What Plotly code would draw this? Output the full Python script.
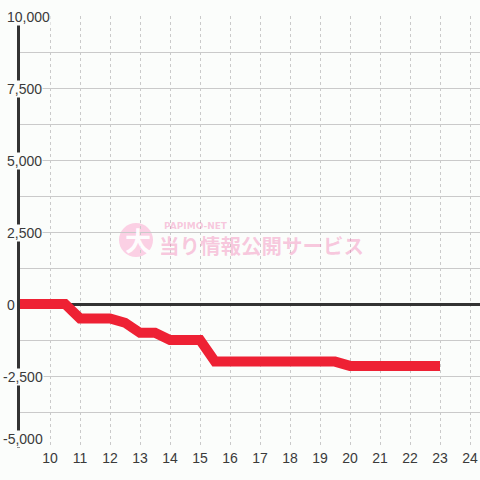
import plotly.graph_objects as go

# ---- data ----
hours = [9, 9.5, 10, 10.5, 11, 11.5, 12, 12.5, 13, 13.5, 14, 14.5, 15, 15.5,
         16, 16.5, 17, 17.5, 18, 18.5, 19, 19.5, 20, 20.5, 21, 21.5, 22, 22.5, 23]
values = [0, 0, 0, 0, -500, -500, -500, -650, -1000, -1000, -1250, -1250, -1250, -2000,
          -2000, -2000, -2000, -2000, -2000, -2000, -2000, -2000, -2150, -2150, -2150, -2150, -2150, -2150, -2150]
x_ticks = list(range(10, 25))
y_ticks = [-5000, -2500, 0, 2500, 5000, 7500, 10000]
y_tick_labels = [f"{v:,}" for v in y_ticks]

BG = "#fbfdfb"
GRID = "#cacaca"
TXT = "#3a3a3a"
FONT = "Liberation Sans, Arial, sans-serif"
FS = 14

L, R, T, B = 20, 0, 16, 32
W = H = 480
pw, ph = W - L - R, H - T - B

def px_x(px):
    return (px - L) / pw

def px_y(py):
    return (H - B - py) / ph

fig = go.Figure()
fig.add_trace(go.Scatter(
    x=hours, y=values, mode="lines",
    line=dict(color="#ee2134", width=10),
    hoverinfo="skip", showlegend=False,
))

annotations = []
ymin = min(y_ticks)
for v, lab in zip(y_ticks, y_tick_labels):
    neg = v < 0
    annotations.append(dict(
        x=px_x(44) if neg else px_x(6), xref="paper", y=v, yref="y", text=lab, showarrow=False,
        xanchor="right" if neg else "left",
        yanchor="bottom" if v == ymin else "middle",
        yshift=0 if v == ymin else -1,
        bgcolor=BG, borderpad=0,
        font=dict(family=FONT, size=FS, color=TXT),
    ))

# watermark
annotations.append(dict(
    x=px_x(138), y=px_y(239), xref="paper", yref="paper", text="<b>大</b>", showarrow=False,
    font=dict(family="Noto Sans CJK JP", size=26, color="rgba(255,255,255,0.95)"),
    xanchor="center", yanchor="middle"))
annotations.append(dict(
    x=px_x(162), y=px_y(226), xref="paper", yref="paper", text="<b>PAPIMO-NET</b>", showarrow=False,
    font=dict(family="DejaVu Sans", size=9, color="rgba(240,100,165,0.36)"),
    xanchor="left", yanchor="middle"))
annotations.append(dict(
    x=px_x(157), y=px_y(245), xref="paper", yref="paper", text="<b>当り情報公開サービス</b>", showarrow=False,
    font=dict(family="Noto Sans CJK JP", size=20.5, color="rgba(240,100,165,0.35)"),
    xanchor="left", yanchor="middle"))

fig.update_layout(
    width=W, height=H,
    margin=dict(l=L, r=R, t=T, b=B, pad=0, autoexpand=False),
    paper_bgcolor=BG, plot_bgcolor=BG,
    showlegend=False,
    annotations=annotations,
    shapes=[dict(type="circle", xref="paper", yref="paper",
                 x0=px_x(119), x1=px_x(153), y0=px_y(257), y1=px_y(223),
                 fillcolor="#fbd0e4", line=dict(width=0), layer="below")],
    xaxis=dict(
        range=[9, 9 + pw / 30], tickvals=x_ticks, ticktext=[str(t) for t in x_ticks],
        showgrid=True, gridcolor=GRID, gridwidth=1, griddash="3px,3px",
        zeroline=False, showline=False, ticks="", automargin=False,
        tickfont=dict(family=FONT, size=FS, color=TXT),
        layer="below traces", fixedrange=True,
    ),
    yaxis=dict(
        range=[-5000, 10000], tick0=0, dtick=1250, showticklabels=False,
        showgrid=True, gridcolor=GRID, gridwidth=1, automargin=False,
        zeroline=True, zerolinecolor="#333333", zerolinewidth=3,
        showline=True, linecolor="#333333", linewidth=3, ticks="",
        layer="below traces", fixedrange=True,
    ),
)

fig.write_html("out.html", config={"displayModeBar": False},
               post_script="document.body.style.margin='0';document.body.style.background='%s';" % BG)
